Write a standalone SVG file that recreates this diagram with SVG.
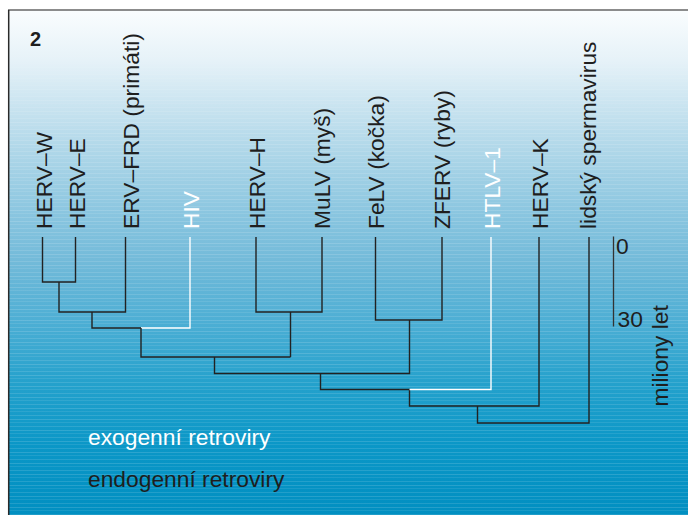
<svg xmlns="http://www.w3.org/2000/svg" width="688" height="515" viewBox="0 0 688 515">
  <defs>
    <linearGradient id="bg" x1="0" y1="10" x2="0" y2="515" gradientUnits="userSpaceOnUse">
      <stop offset="0" stop-color="#fafdfe"/>
      <stop offset="0.1" stop-color="#e6f2f8"/>
      <stop offset="0.2" stop-color="#c6e2ef"/>
      <stop offset="0.3" stop-color="#a9d4e7"/>
      <stop offset="0.4" stop-color="#8bc6e0"/>
      <stop offset="0.5" stop-color="#72bad9"/>
      <stop offset="0.62" stop-color="#4caed4"/>
      <stop offset="0.74" stop-color="#24a1cc"/>
      <stop offset="0.86" stop-color="#0b97c7"/>
      <stop offset="1" stop-color="#018fc1"/>
    </linearGradient>
    <pattern id="stripes" x="0" y="0" width="20" height="11" patternUnits="userSpaceOnUse">
      <rect x="0" y="1" width="20" height="1" fill="#ffffff" fill-opacity="0.14"/>
      <rect x="0" y="4" width="20" height="1" fill="#ffffff" fill-opacity="0.09"/>
      <rect x="0" y="8" width="20" height="1" fill="#ffffff" fill-opacity="0.12"/>
    </pattern>
    <linearGradient id="fade" x1="0" y1="10" x2="0" y2="515" gradientUnits="userSpaceOnUse">
      <stop offset="0" stop-color="#fff" stop-opacity="0"/>
      <stop offset="0.25" stop-color="#fff" stop-opacity="1"/>
      <stop offset="1" stop-color="#fff" stop-opacity="1"/>
    </linearGradient>
    <mask id="m">
      <rect x="0" y="0" width="688" height="515" fill="url(#fade)"/>
    </mask>
  </defs>
  <style>
    .lbl { font-family: "Liberation Sans", Arial, Helvetica, sans-serif; font-size: 22.8px; fill: #1e1e1e; }
    .wht { fill: #ffffff; }
    .br { fill: none; stroke: #222222; stroke-width: 1.4; }
    .bw { fill: none; stroke: #ffffff; stroke-width: 1.4; }
  </style>

  <g id="background">
    <rect x="8" y="10" width="680" height="505" fill="url(#bg)"/>
    <rect x="8" y="10" width="680" height="505" fill="url(#stripes)" mask="url(#m)"/>
    <line x1="8" y1="10" x2="688" y2="10" stroke="#666666" stroke-width="1.6"/>
    <line x1="8.7" y1="10" x2="8.7" y2="515" stroke="#2a2a2a" stroke-width="1.5"/>
  </g>

  <text id="fig-number" x="30" y="46" font-family="'Liberation Sans', Arial, sans-serif" font-size="20" font-weight="bold" fill="#1e1e1e">2</text>

  <g id="node-herv-w"><text class="lbl" transform="translate(51.5,229) rotate(-90)">HERV–W</text></g>
  <g id="node-herv-e"><text class="lbl" transform="translate(84.5,229) rotate(-90)">HERV–E</text></g>
  <g id="node-erv-frd"><text class="lbl" transform="translate(139,229) rotate(-90)">ERV–FRD (primáti)</text></g>
  <g id="node-hiv"><text class="lbl wht" transform="translate(199,229) rotate(-90)">HIV</text></g>
  <g id="node-herv-h"><text class="lbl" transform="translate(265,229) rotate(-90)">HERV–H</text></g>
  <g id="node-mulv"><text class="lbl" transform="translate(330,229) rotate(-90)">MuLV (myš)</text></g>
  <g id="node-felv"><text class="lbl" transform="translate(383.5,229) rotate(-90)">FeLV (kočka)</text></g>
  <g id="node-zferv"><text class="lbl" transform="translate(450,229) rotate(-90)">ZFERV (ryby)</text></g>
  <g id="node-htlv"><text class="lbl wht" transform="translate(500,229) rotate(-90)">HTLV–1</text></g>
  <g id="node-herv-k"><text class="lbl" transform="translate(547.5,229) rotate(-90)">HERV–K</text></g>
  <g id="node-spermavirus"><text class="lbl" transform="translate(595.5,229) rotate(-90)">lidský spermavirus</text></g>

  <g id="connectors">
    <path class="br" d="M42.5,237 V282 H75.5 V237"/>
    <path class="br" d="M59,282 V312 H125.5 V237"/>
    <path class="br" d="M92,312 V328 H141"/>
    <path class="bw" d="M141,328 H190 V237"/>
    <path class="br" d="M141,328 V357 H290.5"/>
    <path class="br" d="M256,237 V312 H322 V237"/>
    <path class="br" d="M290.5,312 V357"/>
    <path class="br" d="M214.5,357 V373.5 H409.5 V320"/>
    <path class="br" d="M375.5,237 V320 H442 V237"/>
    <path class="br" d="M320.5,373.5 V389.5 H409.5 V406 H539 V237"/>
    <path class="bw" d="M409.5,389.5 H491 V237"/>
    <path class="br" d="M477.5,406 V423 H589 V237"/>
  </g>

  <g id="scale">
    <line x1="613.5" y1="236.5" x2="613.5" y2="326.5" stroke="#333333" stroke-width="1.3"/>
    <text class="lbl" x="616" y="253.5">0</text>
    <text class="lbl" x="617.5" y="326.7">30</text>
    <text class="lbl" transform="translate(668,406.5) rotate(-90)">miliony let</text>
  </g>

  <g id="legend">
    <text class="lbl wht" x="88" y="445">exogenní retroviry</text>
    <text class="lbl" x="88" y="487">endogenní retroviry</text>
  </g>
</svg>
